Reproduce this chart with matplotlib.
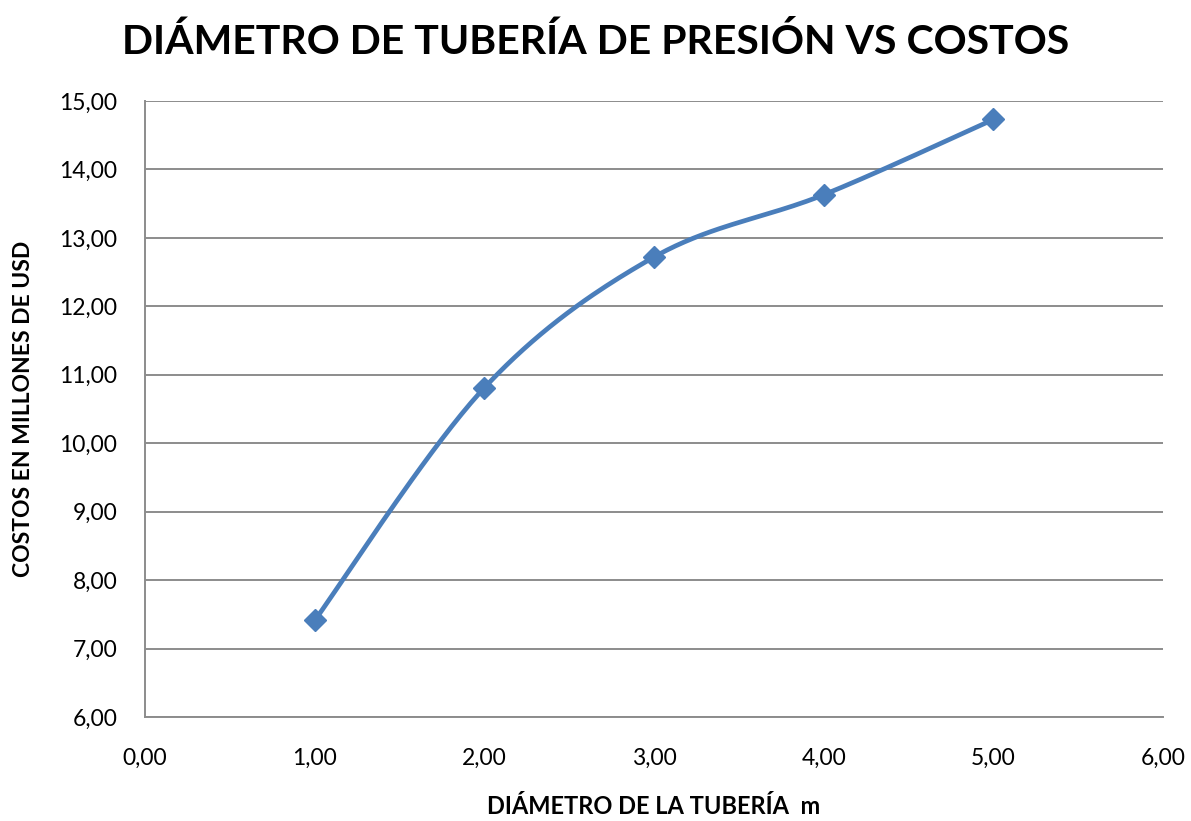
import matplotlib
matplotlib.use("Agg")
from matplotlib import pyplot as plt
from matplotlib.ticker import FuncFormatter, MultipleLocator
import numpy as np

# Pipe diameter (m) against cost (millions of USD)
diametro = [1.0, 2.0, 3.0, 4.0, 5.0]
costo = [7.41, 10.81, 12.72, 13.63, 14.73]

titulo = "DIÁMETRO DE TUBERÍA DE PRESIÓN VS COSTOS"
etiqueta_x = "DIÁMETRO DE LA TUBERÍA  m"
etiqueta_y = "COSTOS EN MILLONES DE USD"

azul = "#4A7EBB"
gris = "#8C8C8C"
plt.rcParams['font.family'] = ['Lato', 'DejaVu Sans']


def suavizar(xs, ys, n=40):
    """Cubic Bezier through the points, tangents from neighbouring points."""
    p = np.column_stack([xs, ys]).astype(float)
    out = []
    for i in range(len(p) - 1):
        a = p[i - 1] if i > 0 else p[i]
        d = p[i + 2] if i + 2 < len(p) else p[i + 1]
        c1 = p[i] + (p[i + 1] - a) / 6.0
        c2 = p[i + 1] - (d - p[i]) / 6.0
        t = np.linspace(0, 1, n)[:, None]
        seg = ((1 - t) ** 3 * p[i] + 3 * (1 - t) ** 2 * t * c1
               + 3 * (1 - t) * t ** 2 * c2 + t ** 3 * p[i + 1])
        out.append(seg if i == 0 else seg[1:])
    s = np.vstack(out)
    return s[:, 0], s[:, 1]


fig = plt.figure(figsize=(11.91, 8.21), dpi=100)
ax = fig.add_axes([145 / 1191, 1 - 717 / 821, (1163 - 145) / 1191, (717 - 101) / 821])

sx, sy = suavizar(diametro, costo)
ax.plot(sx, sy, color=azul, lw=3.4, solid_capstyle='round', zorder=3)
ax.plot(diametro, costo, linestyle='none', marker='D', ms=11.5, color=azul,
        markeredgecolor=azul, zorder=4)

ax.set_xlim(0, 6)
ax.set_ylim(6, 15)
ax.xaxis.set_major_locator(MultipleLocator(1))
ax.yaxis.set_major_locator(MultipleLocator(1))
fmt = FuncFormatter(lambda v, pos: f"{v:.2f}".replace('.', ','))
ax.xaxis.set_major_formatter(fmt)
ax.yaxis.set_major_formatter(fmt)

ax.grid(axis='y', color=gris, lw=1.4)
ax.set_axisbelow(True)
for lado in ['top', 'right']:
    ax.spines[lado].set_visible(False)
for lado in ['left', 'bottom']:
    ax.spines[lado].set_color(gris)
    ax.spines[lado].set_linewidth(1.4)
ax.tick_params(length=0, labelsize=16.5, colors='black')
ax.tick_params(axis='x', pad=22)
ax.tick_params(axis='y', pad=20)

ax.set_xlabel(etiqueta_x, fontsize=17, fontweight='bold', labelpad=19)
ax.set_ylabel(etiqueta_y, fontsize=16.5, fontweight='bold', labelpad=18)
fig.text(0.5, 1 - 42 / 821, titulo, ha='center', va='center',
         fontsize=29.5, fontweight='bold')

fig.savefig("out.png", dpi=100)
